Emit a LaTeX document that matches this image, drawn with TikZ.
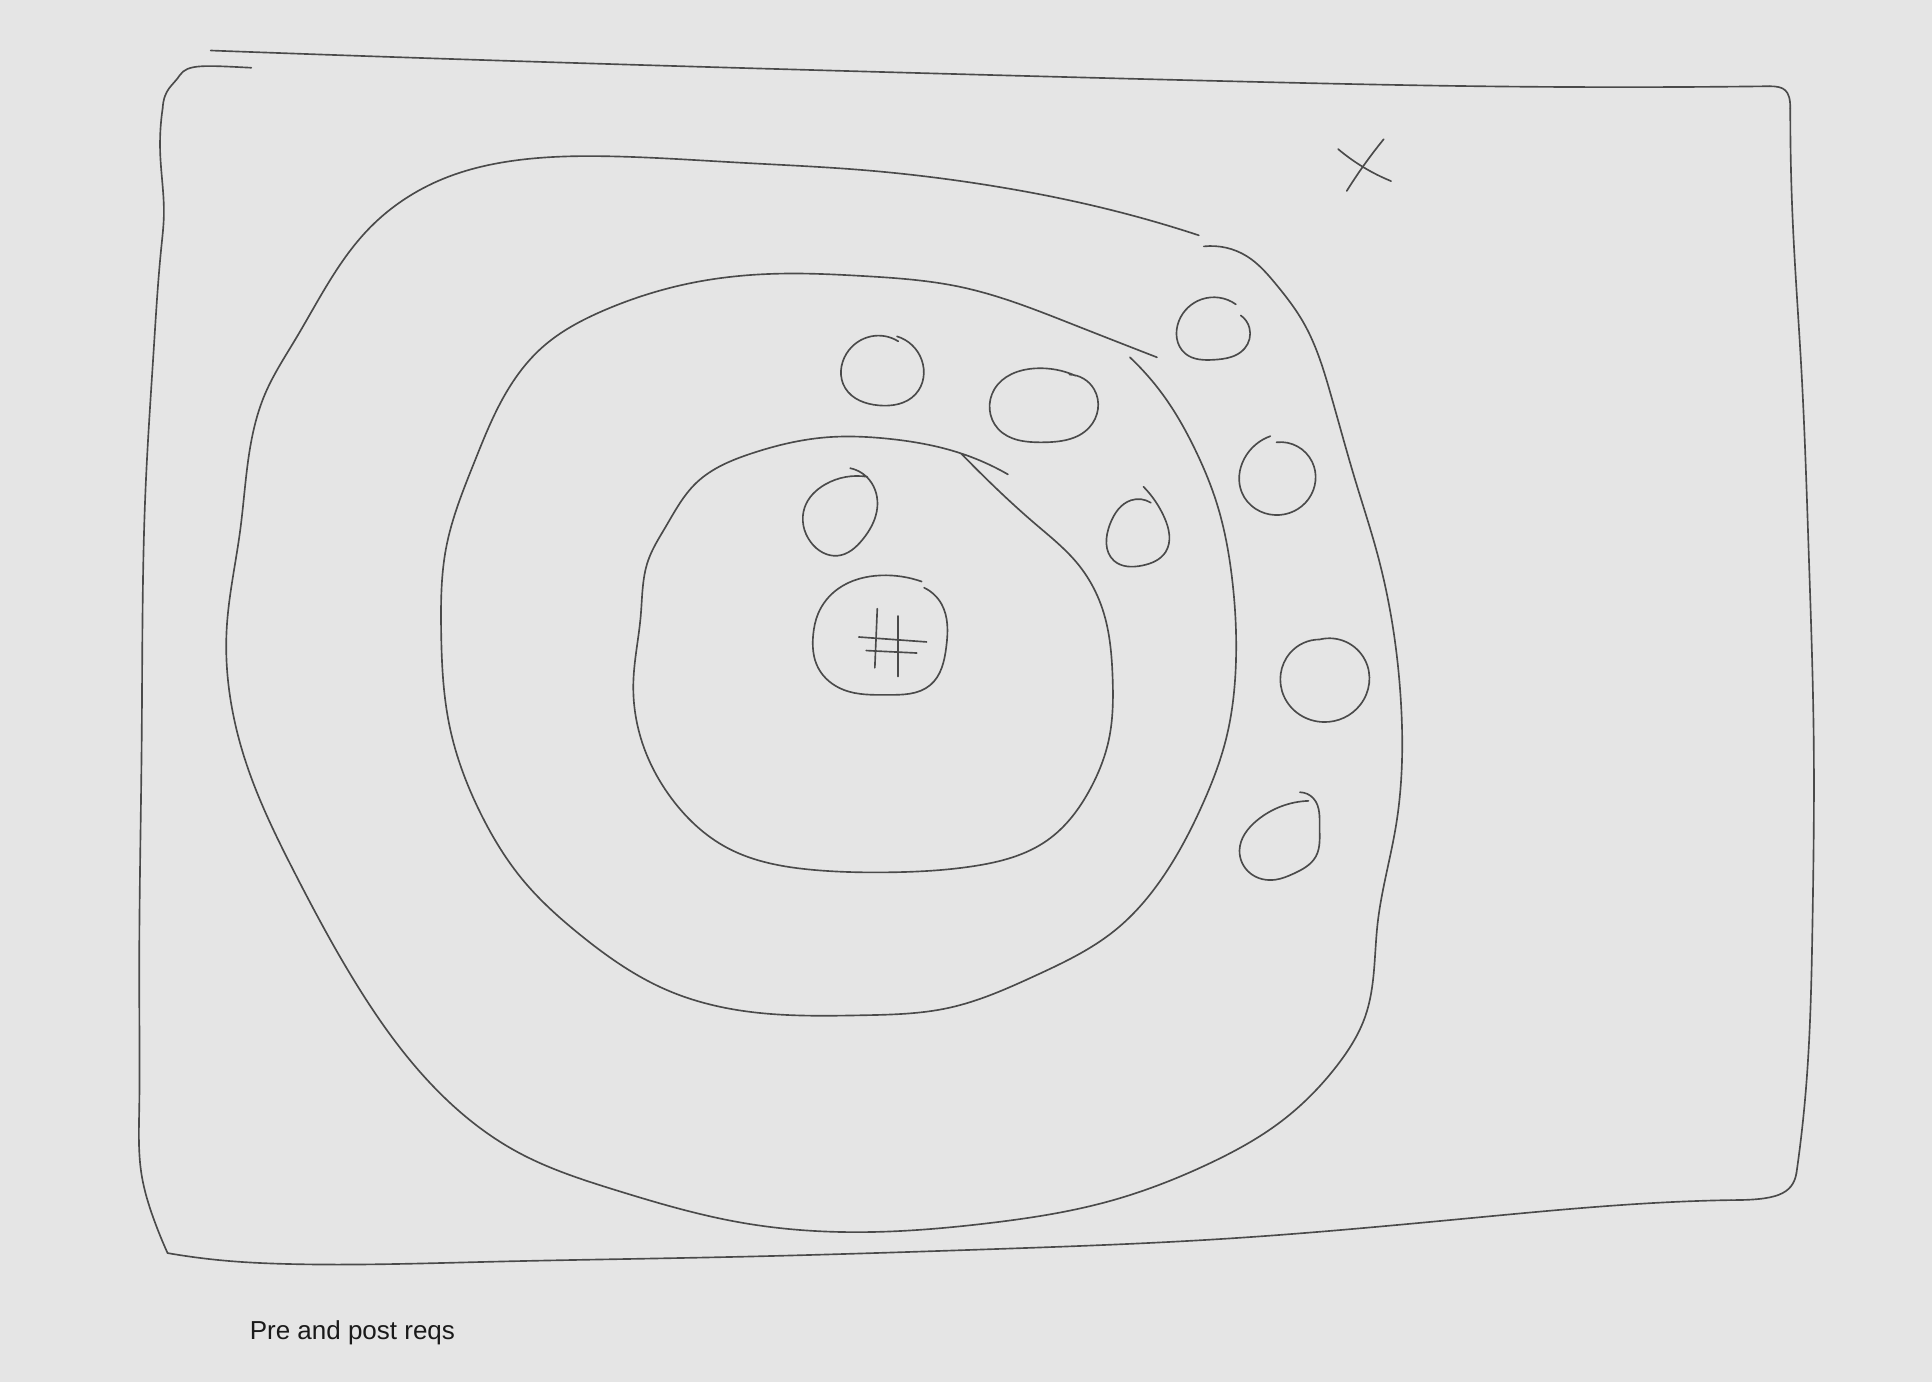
\documentclass[tikz,border=0pt]{standalone}
\usepackage{fontspec}
\setmainfont{Liberation Sans}
\usetikzlibrary{hobby}
\definecolor{bgc}{HTML}{E5E5E5}
\definecolor{inkc}{HTML}{4A4A4A}
\definecolor{txtc}{HTML}{1A1A1A}
\begin{document}
\begin{tikzpicture}[x=0.01cm,y=-0.01cm,
  ink/.style={draw=inkc,line width=0.38pt,line cap=round,line join=round,use Hobby shortcut}]
\fill[bgc] (0,0) rectangle (1568,1122);
\useasboundingbox (0,0) rectangle (1568,1122);
% outer frame
\draw[ink] (171,41) .. (400,49) .. (700,58) .. (1000,66) .. (1200,70) .. (1436,70);
\draw[ink] (1436,70) .. controls (1448,70) and (1453,73) .. (1453,88);
\draw[ink] (1453,88) .. (1455,180) .. (1462,300) .. (1468,450) .. (1472,600) .. (1471,750) .. (1466,880) .. (1458,952);
\draw[ink] (1458,952) .. controls (1455,970) and (1440,974) .. (1405,974);
\draw[ink] (1405,974) .. (1370,975) .. (1200,988) .. (1000,1005) .. (800,1014) .. (600,1020) .. (400,1024) .. (240,1026) .. (181,1023) .. (136,1017);
\draw[ink] (136,1017) .. (125,990) .. (115,954) .. (113,900) .. (113,800) .. (115,600) .. (118,400) .. (125,280) .. (131,200) .. (133,175) .. (130,124) .. (132,88);
\draw[ink] (132,88) .. controls (133,72) and (140,70) .. (146,61) .. controls (152,52) and (165,53) .. (204,55);
% outer blob
\draw[ink] (973,191) .. (900,170) .. (800,150) .. (700,138) .. (600,132) .. (500,127) .. (420,130) .. (360,145) .. (300,185) .. (240,275) .. (215,320) .. (195,430) .. (184,510) .. (200,620) .. (240,710) .. (290,800) .. (350,880) .. (420,935) .. (500,966) .. (600,992) .. (700,1000) .. (800,993) .. (900,975) .. (980,945) .. (1040,910) .. (1085,865) .. (1108,825) .. (1118,750) .. (1133,670) .. (1137,570) .. (1118,450) .. (1100,390) .. (1080,320) .. (1058,262) .. (1035,230) .. (1012,208) .. (977,200);
% middle blob
\draw[ink] (939,290) .. (870,263) .. (780,233) .. (700,224) .. (640,222) .. (570,228) .. (490,252) .. (440,282) .. (410,320) .. (385,375) .. (362,445) .. (358,510) .. (365,590) .. (390,660) .. (425,715) .. (470,758) .. (540,803) .. (600,820) .. (700,824) .. (770,818) .. (840,792) .. (905,755) .. (945,710) .. (975,655) .. (995,600) .. (1003,540) .. (1000,470) .. (988,410) .. (970,365) .. (945,322) .. (917,290);
% inner blob
\draw[ink] (818,385) .. (780,368) .. (720,356) .. (670,355) .. (610,368) .. (565,392) .. (540,428) .. (526,455) .. (520,500) .. (514,555) .. (522,605) .. (545,648) .. (590,688) .. (660,706) .. (720,708) .. (790,703) .. (850,682) .. (885,640) .. (900,600) .. (903,550) .. (895,495) .. (875,458) .. (840,425) .. (805,393) .. (780,368);
% small circles
\draw[ink] (729,277) .. (707,273) .. (687,287) .. (686,315) .. (713,329) .. (743,320) .. (748,292) .. (728,273);
\draw[ink] (873,305) .. (840,299) .. (807,316) .. (810,348) .. (846,359) .. (884,347) .. (888,316) .. (868,304);
\draw[ink] (1003,247) .. (975,243) .. (957,260) .. (962,287) .. (985,292) .. (1010,283) .. (1014,266) .. (1007,256);
\draw[ink] (1031,354) .. (1010,372) .. (1008,400) .. (1035,418) .. (1062,405) .. (1065,375) .. (1036,359);
\draw[ink] (928,395) .. (945,420) .. (946,448) .. (927,459) .. (904,455) .. (901,425) .. (918,406) .. (934,408);
\draw[ink] (690,380) .. (706,390) .. (712,412) .. (700,438) .. (680,451) .. (658,440) .. (653,412) .. (670,393) .. (704,387);
\draw[ink] (1071,519) .. (1047,530) .. (1042,565) .. (1074,586) .. (1104,572) .. (1108,536) .. (1071,519);
\draw[ink] (1055,643) .. (1066,648) .. (1071,672) .. (1068,695) .. (1050,709) .. (1035,714) .. (1015,709) .. (1006,690) .. (1020,666) .. (1062,650);
% hash node
\draw[ink] (748,472) .. (715,467) .. (680,478) .. (664,498) .. (660,515) .. (664,542) .. (685,560) .. (720,564) .. (755,556) .. (768,525) .. (764,490) .. (750,477);
\draw[ink] (712,494) -- (710,542);
\draw[ink] (729,500) -- (729,549);
\draw[ink] (697,517) -- (752,521);
\draw[ink] (703,528) -- (744,530);
% X mark
\draw[ink] (1086,121) .. (1107,136) .. (1129,147);
\draw[ink] (1123,113) .. (1107,134) .. (1093,155);
% caption
\node[anchor=base west,inner sep=0pt,text=txtc,font=\fontsize{6}{7}\selectfont] (caption) at (202,1087) {Pre and post reqs};
\end{tikzpicture}
\end{document}
